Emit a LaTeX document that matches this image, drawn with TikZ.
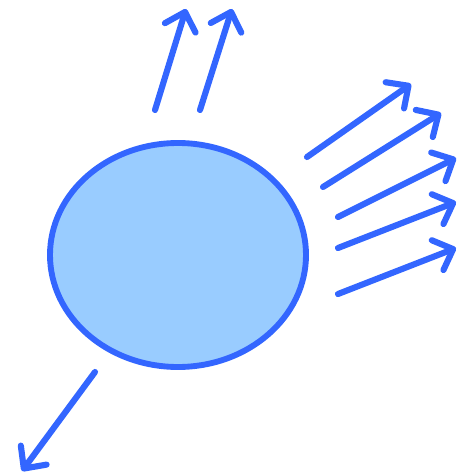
\documentclass[tikz,border=0pt]{standalone}
\usetikzlibrary{arrows.meta,shapes.geometric}
\definecolor{strokeblue}{HTML}{3366FF}
\definecolor{fillblue}{HTML}{99CCFF}
\begin{document}
\begin{tikzpicture}[x=0.75pt,y=-0.75pt,
  ray/.style={draw=strokeblue,line width=4.6pt,line cap=round,
    -{Straight Barb[round,length=12.5pt,width=24pt]}},
  bodystyle/.style={draw=strokeblue,fill=fillblue,line width=4.4pt,ellipse,
    minimum width=192pt,minimum height=168pt,inner sep=0pt}]
\useasboundingbox (0,0) rectangle (461,474);
\node (body) [bodystyle] at (178,255) {};
\coordinate (s1) at (155,110); \coordinate (t1) at (186,9);
\coordinate (s2) at (200,110); \coordinate (t2) at (232,9);
\coordinate (s3) at (307,157); \coordinate (t3) at (411,84);
\coordinate (s4) at (323,187); \coordinate (t4) at (441,113);
\coordinate (s5) at (338,217); \coordinate (t5) at (456,158);
\coordinate (s6) at (338,248); \coordinate (t6) at (456,202);
\coordinate (s7) at (338,294); \coordinate (t7) at (456,248);
\coordinate (s8) at (95,372); \coordinate (t8) at (22,471);
\foreach \i in {1,...,8} \draw[ray] (s\i) -- (t\i);
\end{tikzpicture}
\end{document}
